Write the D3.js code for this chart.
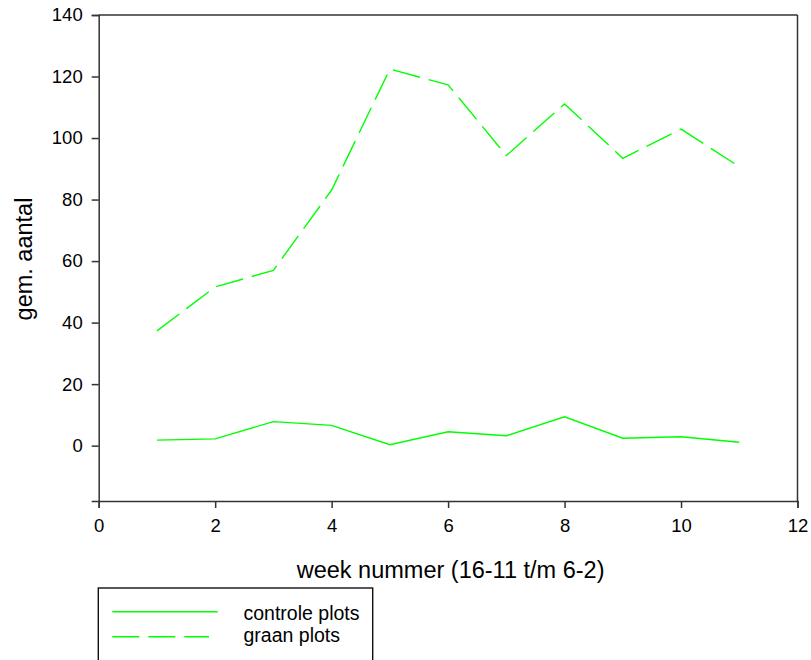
<!DOCTYPE html>
<html>
<head>
<meta charset="utf-8">
<script src="https://cdn.jsdelivr.net/npm/d3@7"></script>
<style>
  body { margin: 0; background: #fff; }
  text { font-family: "Liberation Sans", Arial, Helvetica, sans-serif; fill: #000; }
</style>
</head>
<body>
<script>
/* Data */
var weeks = [1, 2, 3, 4, 5, 6, 7, 8, 9, 10, 11];
var controle = [1.8, 2.2, 7.8, 6.6, 0.3, 4.5, 3.2, 9.4, 2.4, 2.9, 1.1];
var graan = [37.3, 51.6, 57.0, 83.1, 122.4, 117.3, 94.3, 111.1, 93.4, 102.9, 90.7];
var xTicks = [0, 2, 4, 6, 8, 10, 12];
var yTicks = [0, 20, 40, 60, 80, 100, 120, 140];
var seriesNames = ['controle plots', 'graan plots'];

/* Plot margins */
var margin = {top: 15, right: 13.5, bottom: 159, left: 98.7},
    width = 811 - margin.left - margin.right,
    height = 660 - margin.top - margin.bottom;

var svg = d3.select('body')
    .append('svg')
    .attr('width', 811)
    .attr('height', 660);

var g = svg.append('g')
    .attr('transform', 'translate(' + margin.left + ',' + margin.top + ')');

var x = d3.scaleLinear().domain([0, 12]).range([0, width]);
var y = d3.scaleLinear().domain([-18, 140]).range([height, 0]);

var green = '#00ff00';
var axisColor = '#333';

/* Frame lines: top and right */
g.append('line')
    .attr('x1', 0).attr('x2', width).attr('y1', 0).attr('y2', 0)
    .attr('stroke', axisColor).attr('stroke-width', 1.5);
g.append('line')
    .attr('x1', width).attr('x2', width).attr('y1', 0).attr('y2', height)
    .attr('stroke', axisColor).attr('stroke-width', 1.5);

/* Axes */
var xAxis = g.append('g')
    .attr('transform', 'translate(0,' + height + ')')
    .call(d3.axisBottom(x).tickValues(xTicks).tickSizeOuter(0).tickSize(7).tickPadding(11));
var yAxis = g.append('g')
    .call(d3.axisLeft(y).tickValues(yTicks).tickSizeOuter(0).tickSize(7).tickPadding(9));

[xAxis, yAxis].forEach(function (a) {
    a.select('.domain').attr('stroke', axisColor).attr('stroke-width', 1.5);
    a.selectAll('.tick line').attr('stroke', axisColor).attr('stroke-width', 1.5);
    a.selectAll('.tick text')
        .style('font-family', '"Liberation Sans", Arial, sans-serif')
        .style('font-size', '18.5px')
        .attr('fill', '#000');
});

/* Lines */
var line = d3.line()
    .x(function (d) { return x(d[0]); })
    .y(function (d) { return y(d[1]); });

g.append('path')
    .datum(d3.zip(weeks, controle))
    .attr('d', line)
    .attr('fill', 'none')
    .attr('stroke', green)
    .attr('stroke-width', 1.4);

g.append('path')
    .datum(d3.zip(weeks, graan))
    .attr('d', line)
    .attr('fill', 'none')
    .attr('stroke', green)
    .attr('stroke-width', 1.4)
    .attr('stroke-dasharray', '28,9');

/* Axis titles */
svg.append('text')
    .attr('x', margin.left + width / 2 + 2.5)
    .attr('y', 578)
    .attr('text-anchor', 'middle')
    .style('font-size', '23.5px')
    .text('week nummer (16-11 t/m 6-2)');

svg.append('text')
    .attr('transform', 'translate(31.5,259) rotate(-90)')
    .attr('text-anchor', 'middle')
    .style('font-size', '23.5px')
    .text('gem. aantal');

/* Legend */
var legend = svg.append('g');
legend.append('rect')
    .attr('x', 98.3).attr('y', 588)
    .attr('width', 274.4).attr('height', 120)
    .attr('fill', 'none')
    .attr('stroke', '#111')
    .attr('stroke-width', 1.4);

var legendRows = [
    {name: seriesNames[0], dash: null, ly: 611.7, ty: 620},
    {name: seriesNames[1], dash: '27,9', ly: 636.7, ty: 641.5}
];
legendRows.forEach(function (r) {
    legend.append('line')
        .attr('x1', 112.3).attr('x2', r.dash ? 209 : 217.7)
        .attr('y1', r.ly).attr('y2', r.ly)
        .attr('stroke', green)
        .attr('stroke-width', 1.4)
        .attr('stroke-dasharray', r.dash);
    legend.append('text')
        .attr('x', 243.5)
        .attr('y', r.ty)
        .style('font-size', '19.5px')
        .text(r.name);
});
</script>
</body>
</html>
